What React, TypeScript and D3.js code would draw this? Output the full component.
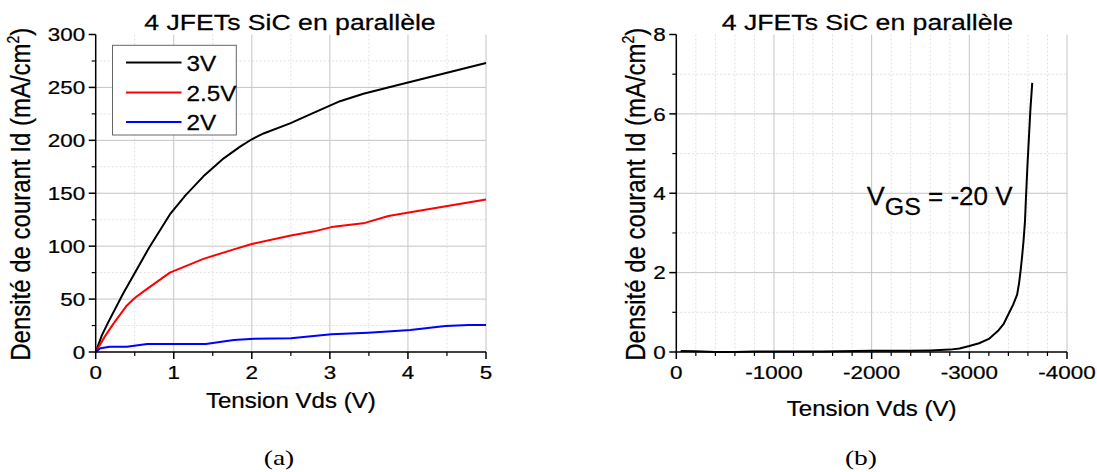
import React from 'react';
import * as d3 from 'd3';

// ---------- data ----------
const vds3V = [0, 0.08, 0.16, 0.35, 0.68, 0.95, 1.15, 1.38, 1.64, 1.85, 2.0, 2.15, 2.49, 2.79, 3.13, 3.43, 3.86, 5.0];
const id3V = [0, 16, 28, 55, 98, 130, 148, 166, 183, 194, 201, 206.5, 216, 226, 237, 244, 252, 273];

const vds25V = [0, 0.12, 0.23, 0.4, 0.5, 0.61, 0.95, 1.38, 1.77, 2.0, 2.5, 2.8, 3.02, 3.45, 3.75, 4.03, 5.0];
const id25V = [0, 15, 27, 44, 51, 57, 75, 88, 97, 102, 110, 114, 118, 122, 128.5, 132, 144];

const vds2V = [0, 0.06, 0.18, 0.4, 0.66, 1.41, 1.77, 2.03, 2.5, 3.02, 3.49, 4.03, 4.48, 4.78, 5.0];
const id2V = [0, 3.5, 5, 5, 7.5, 7.5, 11.3, 12.6, 12.9, 16.7, 18.2, 20.8, 24.5, 25.5, 25.5];

const vdsBlock = [-45, -200, -400, -600, -800, -1000, -1500, -2000, -2400, -2600, -2800, -2900, -3000, -3100, -3200, -3300, -3350, -3400, -3450, -3490, -3510, -3525, -3540, -3555, -3570, -3580, -3595, -3610, -3625, -3644];
const idBlock = [0.025, 0.02, 0.0, 0.0, 0.01, 0.015, 0.015, 0.03, 0.03, 0.04, 0.06, 0.09, 0.15, 0.22, 0.33, 0.55, 0.7, 0.95, 1.2, 1.45, 1.75, 2.05, 2.4, 2.8, 3.3, 3.9, 4.7, 5.4, 6.1, 6.78];

const leftXTicks = [0, 1, 2, 3, 4, 5];
const leftYTicks = [0, 50, 100, 150, 200, 250, 300];
const rightXTicks = [0, -1000, -2000, -3000, -4000];
const rightYTicks = [0, 2, 4, 6, 8];
const legendLabels = ['3V', '2.5V', '2V'];
const seriesColors = ['#000000', '#ff0000', '#0000ff'];
const titleText = '4 JFETs SiC en parallèle';
const xLabelText = 'Tension Vds (V)';
const yLabelText = 'Densité de courant Id (mA/cm';

const SANS = "'Liberation Sans', Arial, sans-serif";
const SERIF = "'Liberation Serif', 'DejaVu Serif', serif";
const SX = 1.18;

type Pt = [number, number];
const zip = (a: number[], b: number[]): Pt[] => a.map((v, i) => [v, b[i]] as Pt);

function T({ x, y, size, anchor = 'start', sx = SX, family = SANS, rotate = false, sw = 0.25, children }: any) {
  const tf = rotate
    ? `translate(${x},${y}) rotate(-90) scale(1,${sx})`
    : `translate(${x},${y}) scale(${sx},1)`;
  return (
    <text transform={tf} fontSize={size} textAnchor={anchor} fontFamily={family} fill="#000" stroke={sw > 0 ? '#000' : 'none'} strokeWidth={sw}>
      {children}
    </text>
  );
}

function Panel({ x0, x1, yTop, yBot, xDomain, yDomain, xTicks, xMinor, yTicks, yMinor, series, xLabelY, yLabelX, titleX, fmt, children }: any) {
  const xs = d3.scaleLinear().domain(xDomain).range([x0, x1]);
  const ys = d3.scaleLinear().domain(yDomain).range([yBot, yTop]);
  const line = d3.line<Pt>().x(d => xs(d[0])).y(d => ys(d[1]));
  const cx = (x0 + x1) / 2;
  return (
    <g>
      {/* minor grid */}
      {xMinor.map((v: number) => (
        <line key={'xm' + v} x1={xs(v)} x2={xs(v)} y1={yTop} y2={yBot} stroke="#e0e0e0" strokeWidth={1} strokeDasharray="2,2" />
      ))}
      {yMinor.map((v: number) => (
        <line key={'ym' + v} x1={x0} x2={x1} y1={ys(v)} y2={ys(v)} stroke="#e0e0e0" strokeWidth={1} strokeDasharray="2,2" />
      ))}
      {/* major grid */}
      {xTicks.slice(1).map((v: number) => (
        <line key={'xg' + v} x1={xs(v)} x2={xs(v)} y1={yTop} y2={yBot} stroke="#c4c4c4" strokeWidth={1} />
      ))}
      {yTicks.slice(1, -1).map((v: number) => (
        <line key={'yg' + v} x1={x0} x2={x1} y1={ys(v)} y2={ys(v)} stroke="#c4c4c4" strokeWidth={1} />
      ))}
      {/* series */}
      {series.map((s: any, i: number) => (
        <path key={'s' + i} d={line(s.pts) || ''} fill="none" stroke={s.color} strokeWidth={2} strokeLinejoin="round" />
      ))}
      {/* axes */}
      <line x1={x0} x2={x1} y1={yBot} y2={yBot} stroke="#000" strokeWidth={1.5} />
      <line x1={x0} x2={x0} y1={yTop} y2={yBot} stroke="#000" strokeWidth={1.5} />
      {xTicks.map((v: number) => (
        <g key={'xt' + v}>
          <line x1={xs(v)} x2={xs(v)} y1={yBot} y2={yBot + 7} stroke="#000" strokeWidth={1.5} />
          <T x={xs(v)} y={379} size={19} anchor="middle">{fmt(v)}</T>
        </g>
      ))}
      {xMinor.map((v: number) => (
        <line key={'xmt' + v} x1={xs(v)} x2={xs(v)} y1={yBot} y2={yBot + 4} stroke="#000" strokeWidth={1.2} />
      ))}
      {yTicks.map((v: number) => (
        <g key={'yt' + v}>
          <line x1={x0 - 7} x2={x0} y1={ys(v)} y2={ys(v)} stroke="#000" strokeWidth={1.5} />
          <T x={x0 - 10.5} y={ys(v) + 6.8} size={19} anchor="end">{String(v)}</T>
        </g>
      ))}
      {yMinor.map((v: number) => (
        <line key={'ymt' + v} x1={x0 - 4} x2={x0} y1={ys(v)} y2={ys(v)} stroke="#000" strokeWidth={1.2} />
      ))}
      {/* texts */}
      <T x={titleX ?? cx} y={30} size={22} anchor="middle" sx={1.21}>{titleText}</T>
      <T x={cx} y={xLabelY} size={21.5} anchor="middle" sx={1.12}>{xLabelText}</T>
      <T x={yLabelX} y={(yTop + yBot) / 2 + 1} size={24} anchor="middle" rotate sx={1.12}>
        {yLabelText}
        <tspan fontSize={14} dy={-10}>2</tspan>
        <tspan dy={10}>)</tspan>
      </T>
      {children}
    </g>
  );
}

export default function App() {
  const leftSeries = [
    { pts: zip(vds3V, id3V), color: seriesColors[0] },
    { pts: zip(vds25V, id25V), color: seriesColors[1] },
    { pts: zip(vds2V, id2V), color: seriesColors[2] },
  ];
  const rightSeries = [{ pts: zip(vdsBlock, idBlock), color: '#000000' }];
  const legendRows = [62.5, 92.5, 122];
  return (
    <svg width={1097} height={472} style={{ position: 'absolute', left: 0, top: 0, background: '#fff' }}>
      <rect x={0} y={0} width={1097} height={472} fill="#fff" />
      <Panel
        x0={95.7} x1={486} yTop={34.5} yBot={352}
        xDomain={[0, 5]} yDomain={[0, 300]}
        xTicks={leftXTicks} xMinor={d3.range(0.5, 5, 1)}
        yTicks={leftYTicks} yMinor={d3.range(25, 300, 50)}
        series={leftSeries} xLabelY={408} yLabelX={30} titleX={290}
        fmt={(v: number) => String(v)}
      >
        <rect x={112.5} y={45.3} width={123.8} height={89.7} fill="#fff" stroke="#666" strokeWidth={1} />
        {legendLabels.map((lab, i) => (
          <g key={lab}>
            <line x1={126} x2={181.5} y1={legendRows[i]} y2={legendRows[i]} stroke={seriesColors[i]} strokeWidth={2} />
            <T x={186.5} y={legendRows[i] + 8} size={21.5} sx={1.13}>{lab}</T>
          </g>
        ))}
      </Panel>
      <Panel
        x0={676.3} x1={1067} yTop={34.5} yBot={352}
        xDomain={[0, -4000]} yDomain={[0, 8]}
        xTicks={rightXTicks} xMinor={d3.range(-200, -4000, -200).filter(v => v % 1000 !== 0)}
        yTicks={rightYTicks} yMinor={[1, 3, 5, 7]}
        series={rightSeries} xLabelY={416} yLabelX={645} titleX={867.5}
        fmt={(v: number) => String(v).replace('\u2212', '-')}
      >
        <text transform="translate(866.7,205) scale(1.04,1)" fontSize={26} fontFamily={SANS} fill="#000" stroke="#000" strokeWidth={0.25}>
          V<tspan fontSize={24} dy={10}>GS</tspan>
          <tspan dy={-10} fontSize={25}> = -20 V</tspan>
        </text>
      </Panel>
      <T x={279} y={465} size={22} anchor="middle" family={SERIF} sx={1.25} sw={0}>(a)</T>
      <T x={861} y={465} size={22} anchor="middle" family={SERIF} sx={1.25} sw={0}>(b)</T>
    </svg>
  );
}
